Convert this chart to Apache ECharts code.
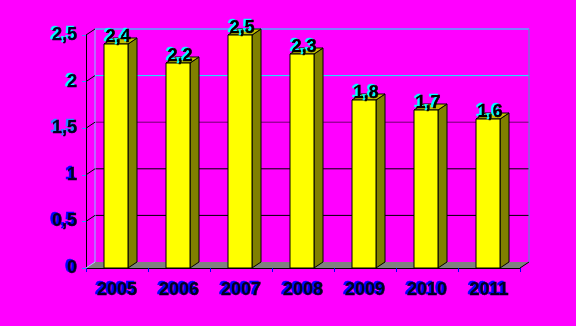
<!DOCTYPE html>
<html><head><meta charset="utf-8">
<script src="https://cdn.jsdelivr.net/npm/echarts@6/dist/echarts.min.js"></script>
<style>html,body{margin:0;padding:0;background:#FF00FF;}#c{width:576px;height:326px;}</style>
</head><body><div id="c"></div>
<script>
var categories = ['2005','2006','2007','2008','2009','2010','2011'];
var values = [2.4, 2.2, 2.5, 2.3, 1.8, 1.7, 1.6];
var yTicks = [0, 0.5, 1, 1.5, 2, 2.5];
var wallLineColors = ['#808080','#000000','#000000','#700070','#00FFFF','#00FFFF'];

var DX = 9, DY = 6;
var FONT = 'Liberation Sans, Arial, sans-serif';
var chart = echarts.init(document.getElementById('c'));
function fmt(v){ return String(v).replace('.', ','); }
function lbl(shadow) {
  return { fontFamily: FONT, fontWeight: 'bold', fontSize: 18, color: '#000020',
    textBorderColor: '#000020', textBorderWidth: 0.6,
    textShadowColor: shadow, textShadowOffsetX: -2, textShadowOffsetY: -1, textShadowBlur: 0.1 };
}

chart.setOption({
  backgroundColor: '#FF00FF',
  animation: false,
  grid: { left: 86, right: 56, top: 35, bottom: 58 },
  xAxis: {
    type: 'category', data: categories,
    axisLine: { show: true, lineStyle: { color: '#000000', width: 1 } },
    axisTick: { show: true, length: 4, lineStyle: { color: '#0000FF' } },
    axisLabel: Object.assign({ margin: 13 }, lbl('#0000FF')),
    splitLine: { show: false }
  },
  yAxis: {
    type: 'value', min: 0, max: 2.5, interval: 0.5,
    axisLine: { show: true, lineStyle: { color: '#000000', width: 1 } },
    axisTick: { show: true, length: 4, lineStyle: { color: '#3090FF' } },
    splitLine: { show: false },
    axisLabel: {
      margin: 9,
      formatter: function (v) {
        var k = v >= 2 ? 'c' : (v >= 1.5 ? 'm' : 'b');
        return '{' + k + '|' + fmt(v) + '}';
      },
      rich: { c: lbl('#00FFFF'), m: lbl('#2090FF'), b: lbl('#0000FF') }
    }
  },
  series: [
    {
      type: 'custom', silent: true, z: 1,
      data: [[0, 0]],
      renderItem: function (params, api) {
        var cs = params.coordSys;
        var x0 = cs.x, x1 = cs.x + cs.width, yb = cs.y + cs.height, yt = cs.y;
        var ch = [];
        yTicks.forEach(function (t, i) {
          var y = api.coord([0, t])[1];
          if (t > 0) {
            ch.push({ type: 'line', shape: { x1: x0 + DX, y1: y - DY, x2: x1 + DX, y2: y - DY },
              style: { stroke: wallLineColors[i], lineWidth: 1 } });
          }
        });
        ch.push({ type: 'polygon', shape: { points: [[x0, yb], [x1, yb], [x1 + DX, yb - DY], [x0 + DX, yb - DY]] },
          style: { fill: '#808080', stroke: null } });
        ch.push({ type: 'line', shape: { x1: x1, y1: yb, x2: x1 + DX, y2: yb - DY }, style: { stroke: '#000000', lineWidth: 1 } });
        ch.push({ type: 'line', shape: { x1: x0 + DX, y1: yb - DY, x2: x0 + DX, y2: yt - DY }, style: { stroke: '#80C8FF', lineWidth: 1 } });
        ch.push({ type: 'line', shape: { x1: x1 + DX, y1: yb - DY, x2: x1 + DX, y2: yt - DY }, style: { stroke: '#40A0C0', lineWidth: 1 } });
        yTicks.forEach(function (t) {
          var y = api.coord([0, t])[1];
          ch.push({ type: 'line', shape: { x1: x0, y1: y, x2: x0 + DX, y2: y - DY },
            style: { stroke: t === 0 ? '#A0D0FF' : '#000000', lineWidth: 1 } });
        });
        return { type: 'group', children: ch };
      }
    },
    {
      type: 'custom', z: 2,
      data: values.map(function (v, i) { return [i, v]; }),
      encode: { x: 0, y: 1 },
      renderItem: function (params, api) {
        var i = api.value(0), v = api.value(1);
        var p = api.coord([i, v]);
        var base = api.coord([i, 0]);
        var band = api.size([1, 0])[0];
        var w = Math.round(band * 0.39);
        var l = Math.round(p[0] - w / 2) - 1;
        var top = Math.round(p[1]), bot = Math.round(base[1]);
        return {
          type: 'group',
          children: [
            { type: 'polygon', shape: { points: [[l + w, top], [l + w + DX, top - DY], [l + w + DX, bot - DY], [l + w, bot]] },
              style: { fill: '#808000', stroke: '#000000', lineWidth: 1 } },
            { type: 'polygon', shape: { points: [[l, top], [l + DX, top - DY], [l + w + DX, top - DY], [l + w, top]] },
              style: { fill: '#C0C000', stroke: '#000000', lineWidth: 1 } },
            { type: 'rect', shape: { x: l, y: top, width: w, height: bot - top },
              style: { fill: '#FFFF00', stroke: '#000000', lineWidth: 1 } },
            { type: 'text', x: l + w / 2 + 2, y: top + 2,
              style: { text: fmt(v), align: 'center', verticalAlign: 'bottom',
                font: 'bold 18px "Liberation Sans", Arial, sans-serif', fill: '#000000',
                stroke: '#000000', lineWidth: 0.6,
                textShadowColor: '#00FFFF', textShadowOffsetX: -2, textShadowOffsetY: -1, textShadowBlur: 0.1 } }
          ]
        };
      }
    }
  ]
});
</script></body></html>
